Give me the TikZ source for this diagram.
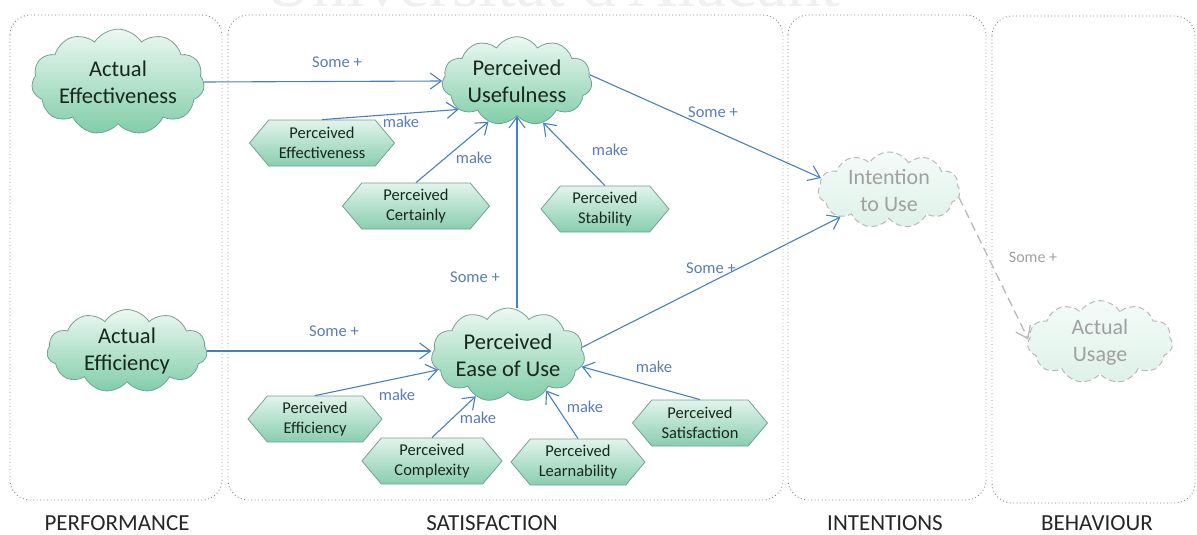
\documentclass[tikz,border=0pt]{standalone}
\usepackage{fontspec}
\setmainfont{Carlito}
\newfontfamily\wmfont{Liberation Serif}
\usetikzlibrary{shapes.symbols,arrows.meta}

\definecolor{arrowblue}{RGB}{70,128,192}
\definecolor{labelblue}{RGB}{90,125,182}
\definecolor{cloudtop}{RGB}{236,248,242}
\definecolor{cloudbot}{RGB}{128,205,168}
\definecolor{cloudedge}{RGB}{118,160,150}
\definecolor{hextop}{RGB}{226,244,236}
\definecolor{hexbot}{RGB}{136,206,174}
\definecolor{inktext}{RGB}{24,40,28}
\definecolor{panelgray}{RGB}{130,130,130}
\definecolor{fadeedge}{RGB}{185,185,185}
\definecolor{fadetext}{RGB}{160,160,160}
\definecolor{fadetop}{RGB}{244,251,248}
\definecolor{fadebot}{RGB}{222,241,233}
\definecolor{watermark}{RGB}{240,240,240}

\tikzset{
  panel/.style={draw=panelgray, line width=0.9pt, dash pattern=on 0.9pt off 2.6pt, rounded corners=20pt},
  cloudnode/.style={cloud, cloud puffs=11, cloud puff arc=115, aspect=2,
    draw=cloudedge, line width=0.8pt, top color=cloudtop, bottom color=cloudbot,
    text=inktext, font=\fontsize{22.5}{27}\selectfont, align=center, inner sep=0pt},
  fadecloud/.style={cloud, cloud puffs=11, cloud puff arc=115, aspect=2,
    draw=fadeedge, line width=1pt, dash pattern=on 6pt off 3.5pt,
    top color=fadetop, bottom color=fadebot,
    text=fadetext, font=\fontsize{22}{27}\selectfont, align=center, inner sep=0pt},
  hexnode/.style={signal, signal to=west and east, signal pointer angle=100,
    draw=cloudedge, line width=0.8pt, top color=hextop, bottom color=hexbot,
    text=inktext, font=\fontsize{16.5}{20.5}\selectfont, align=center,
    inner sep=1pt, minimum height=46pt},
  link/.style={draw=arrowblue, line width=1.1pt,
    -{Straight Barb[length=11pt,width=16pt,line width=1.1pt]}},
  fadelink/.style={draw=fadeedge, line width=1.3pt, dash pattern=on 9pt off 5pt,
    -{Straight Barb[length=11pt,width=16pt,line width=1.3pt]}},
  lab/.style={text=labelblue, font=\fontsize{16.5}{18}\selectfont, inner sep=0pt},
  fadelab/.style={text=fadetext, font=\fontsize{16}{18}\selectfont, inner sep=0pt},
  section/.style={text=black!85, font=\fontsize{23}{25}\selectfont, inner sep=0pt}
}

\begin{document}
\begin{tikzpicture}[x=1pt,y=-1pt]
\useasboundingbox (0,0) rectangle (1197,535);

% faint institutional watermark along the top edge
\begin{scope}
  \clip (0,0) rectangle (1197,535);
  \node[anchor=base west, inner sep=0pt, text=watermark,
        font=\wmfont\fontsize{68}{70}\selectfont] (wm) at (263,7) {Universitat d'Alacant};
\end{scope}

% stage panels
\draw[panel] (10,15) rectangle (222,500);
\draw[panel] (228,15) rectangle (783,500);
\draw[panel] (788,15) rectangle (986,500);
\draw[panel] (992,16) rectangle (1195,503);

\node[section] (perf) at (117,523) {PERFORMANCE};
\node[section] (sat)  at (492,523) {SATISFACTION};
\node[section] (int)  at (885,523) {INTENTIONS};
\node[section] (beh)  at (1097,523) {BEHAVIOUR};

% main constructs
\node[cloudnode, minimum width=160pt, minimum height=80pt] (ae)   at (118,82)  {Actual\\Effectiveness};
\node[cloudnode, minimum width=160pt, minimum height=78pt] (aef)  at (127,351) {Actual\\Efficiency};
\node[cloudnode, minimum width=150pt, minimum height=78pt] (pu)   at (517,81)  {Perceived\\Usefulness};
\node[cloudnode, minimum width=152pt, minimum height=72pt] (peou) at (508,355) {Perceived\\Ease of Use};
\node[fadecloud, minimum width=142pt, minimum height=76pt] (itu)  at (889,190) {Intention\\to Use};
\node[fadecloud, minimum width=145pt, minimum height=73pt] (au)   at (1100,342) {Actual\\Usage};

% perceived attributes
\node[hexnode, minimum width=145pt] (pef)  at (322,143) {Perceived\\Effectiveness};
\node[hexnode, minimum width=147pt] (pce)  at (416,206) {Perceived\\Certainly};
\node[hexnode, minimum width=128pt] (pst)  at (605,209) {Perceived\\Stability};
\node[hexnode, minimum width=134pt] (pefc) at (315,419) {Perceived\\Efficiency};
\node[hexnode, minimum width=140pt] (pco)  at (432,461) {Perceived\\Complexity};
\node[hexnode, minimum width=134pt] (ple)  at (578,462) {Perceived\\Learnability};
\node[hexnode, minimum width=135pt] (psa)  at (700,423) {Perceived\\Satisfaction};

% relations
\draw[link] (ae.east) -- (pu.west);
\draw[link] (pef.north) -- (pu.206);
\draw[link] (pce.north) -- (pu.235);
\draw[link] (pst.north) -- (pu.302);
\draw[link] (peou.north -| pu.south) -- (pu.south);
\draw[link] (pu.5) -- (itu.170);
\draw[link] (peou.6) -- (itu.209);
\draw[link] (aef.east) -- (peou.west |- aef.east);
\draw[link] (pefc.north) -- (peou.192);
\draw[link] (pco.north) -- (peou.232);
\draw[link] (ple.north) -- (peou.317);
\draw[link] (psa.north) -- (peou.351);
\draw[fadelink] (itu.354) -- (au.178);

% relation labels
\node[lab] (l1)  at (337,62)  {Some +};
\node[lab] (l2)  at (401,122) {make};
\node[lab] (l3)  at (474,158) {make};
\node[lab] (l4)  at (610,150) {make};
\node[lab] (l5)  at (475,277) {Some +};
\node[lab] (l6)  at (713,112) {Some +};
\node[lab] (l7)  at (711,268) {Some +};
\node[lab] (l8)  at (334,331) {Some +};
\node[lab] (l9)  at (397,395) {make};
\node[lab] (l10) at (478,418) {make};
\node[lab] (l11) at (585,407) {make};
\node[lab] (l12) at (654,367) {make};
\node[fadelab] (l13) at (1033,257) {Some +};
\end{tikzpicture}
\end{document}
